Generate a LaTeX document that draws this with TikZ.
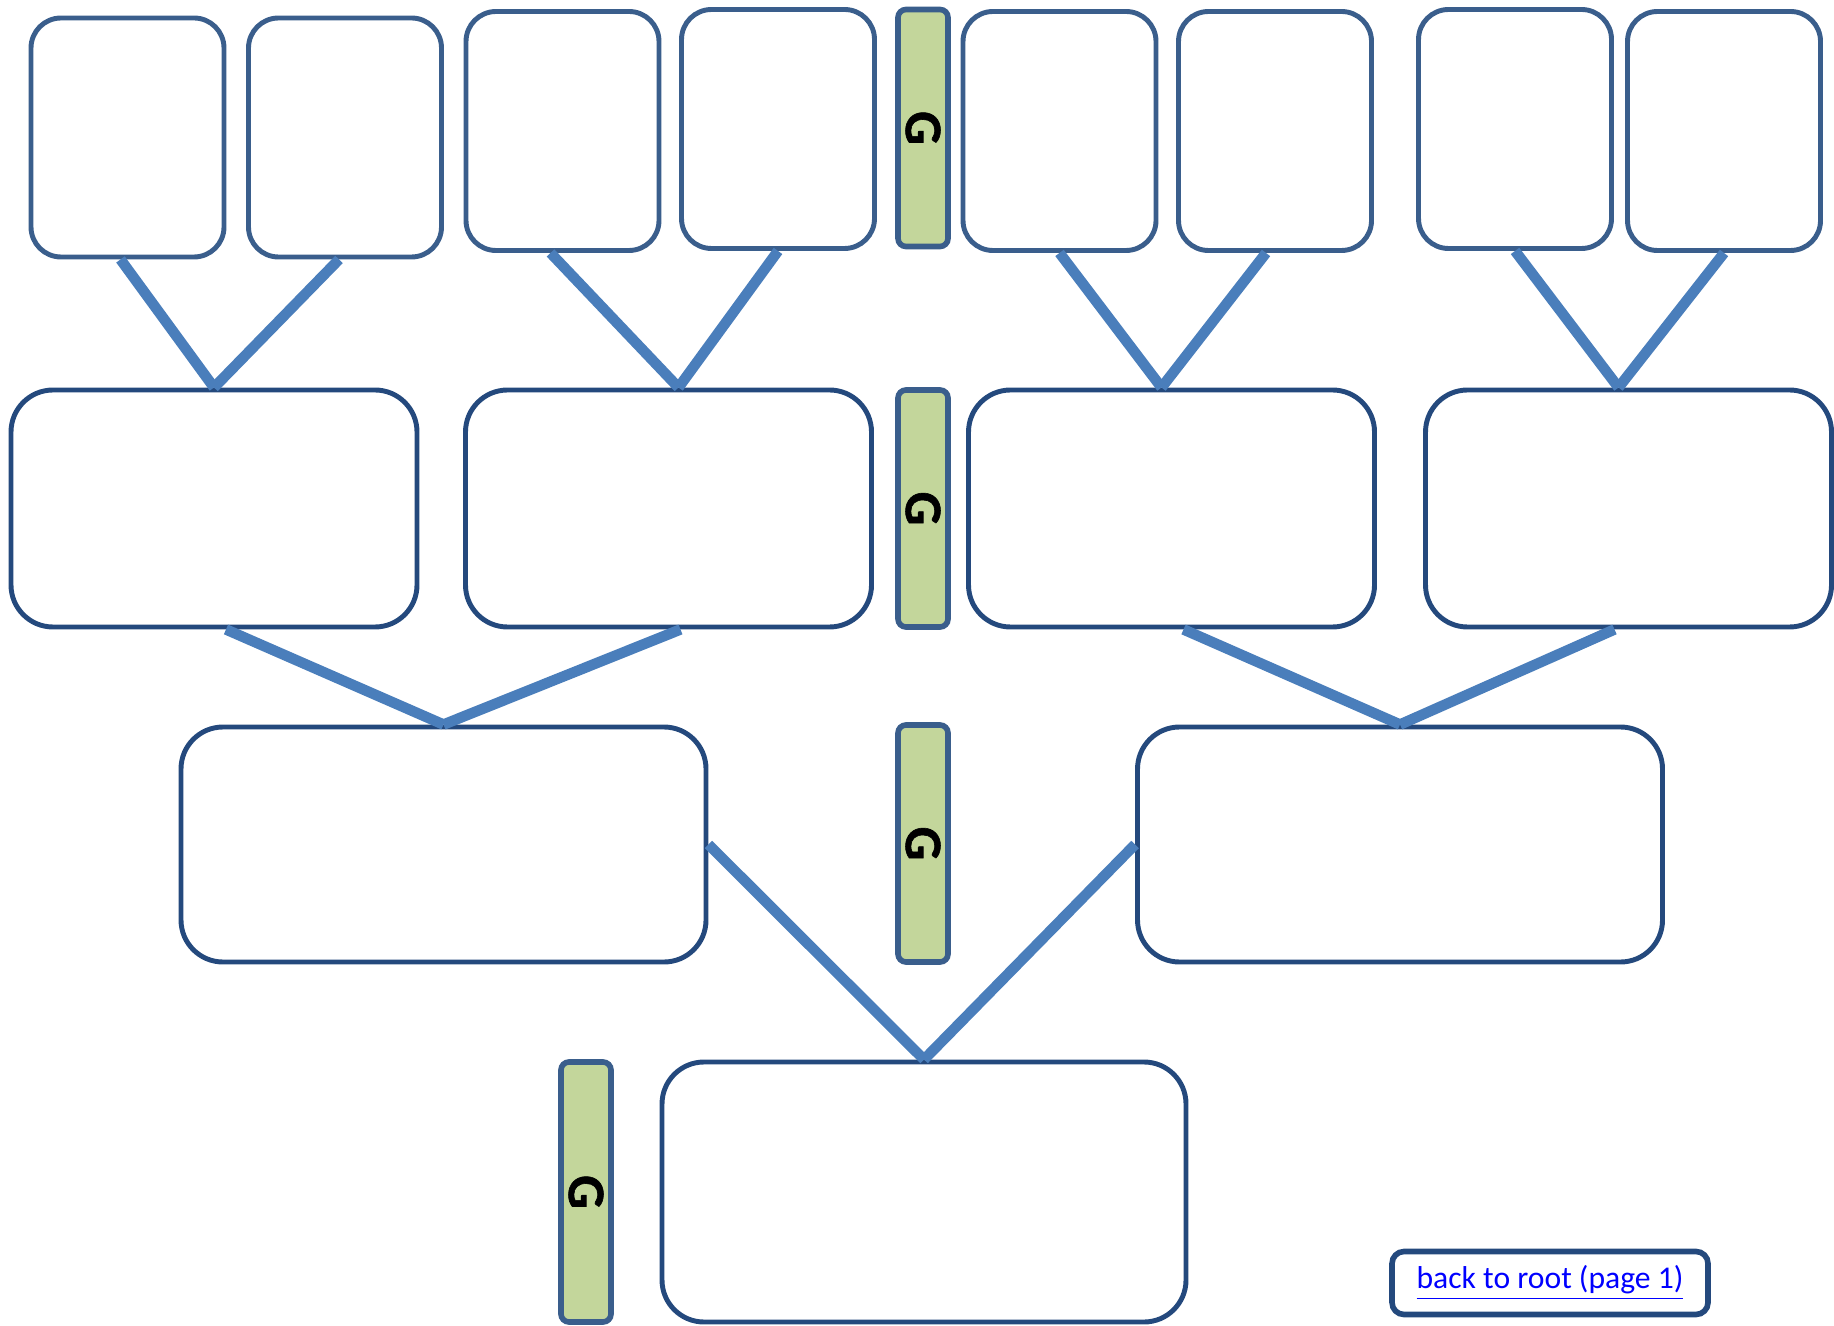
\documentclass[tikz,border=0pt]{standalone}
\usepackage{fontspec}
\setmainfont{Carlito}
\newfontfamily\genfont{Carlito Bold}[FakeBold=1.2]
\usepackage{graphicx}
\usepackage{xcolor}
\usetikzlibrary{positioning}
\definecolor{boxline}{RGB}{36,73,125}
\definecolor{leafline}{RGB}{58,94,140}
\definecolor{stemblue}{RGB}{74,126,187}
\definecolor{genfill}{RGB}{195,214,155}
\definecolor{hyperblue}{RGB}{0,0,255}

\begin{document}
\begin{tikzpicture}[
		leaf/.style={draw=leafline, line width=1.4pt, rounded corners=0.3cm, fill=white, minimum width=1.93cm, minimum height=2.39cm},
		pers/.style={draw=boxline, line width=1.4pt, rounded corners=0.42cm, fill=white, minimum width=4.06cm, minimum height=2.37cm},
		gen/.style={draw=leafline, line width=1.6pt, rounded corners=0.08cm, fill=genfill, minimum width=0.5cm, minimum height=2.37cm, inner sep=0pt, font=\genfont\fontsize{15}{15}\selectfont},
		stem/.style={line width=3pt, stemblue}
	]
	\useasboundingbox (0,0) rectangle (18.34,-13.26);
	% great-grandparents
	\node[leaf] (t1) at (1.275,-1.375) {};
	\node[leaf] (t2) at (3.45,-1.375) {};
	\node[leaf] (t3) at (5.625,-1.31) {};
	\node[leaf] (t4) at (7.78,-1.29) {};
	\node[leaf] (t5) at (10.595,-1.31) {};
	\node[leaf] (t6) at (12.75,-1.31) {};
	\node[leaf] (t7) at (15.15,-1.29) {};
	\node[leaf] (t8) at (17.24,-1.31) {};
	% grandparents
	\node[pers] (m1) at (2.14,-5.085) {};
	\node[pers] (m2) at (6.685,-5.085) {};
	\node[pers] (m3) at (11.715,-5.085) {};
	\node[pers] (m4) at (16.285,-5.085) {};
	% parents
	\node[pers, minimum width=5.25cm, minimum height=2.35cm] (p1) at (4.435,-8.445) {};
	\node[pers, minimum width=5.25cm, minimum height=2.35cm] (p2) at (14.0,-8.445) {};
	% root
	\node[pers, minimum width=5.24cm, minimum height=2.6cm] (root) at (9.24,-11.92) {};
	% generation bars
	\node[gen] (g1) at (9.23,-1.28) {\rotatebox{-90}{G}};
	\node[gen] (g2) at (9.23,-5.085) {\rotatebox{-90}{G}};
	\node[gen] (g3) at (9.23,-8.435) {\rotatebox{-90}{G}};
	\node[gen, minimum height=2.6cm] (g4) at (5.86,-11.92) {\rotatebox{-90}{G}};
	% link
	\node[draw=boxline, line width=1.6pt, rounded corners=0.12cm, minimum width=3.16cm, minimum height=0.63cm, font=\fontsize{9}{11}\selectfont, text=hyperblue] (back) at (15.5,-12.83) {\underline{back to root (page 1)}};
	% connectors
	\draw[stem] ([xshift=-0.07cm]t1.south) -- (m1.north);
	\draw[stem] ([xshift=-0.06cm]t2.south) -- (m1.north);
	\draw[stem] ([xshift=-0.12cm]t3.south) -- ([xshift=0.1cm]m2.north);
	\draw[stem] (t4.south) -- ([xshift=0.1cm]m2.north);
	\draw[stem] (t5.south) -- ([xshift=-0.1cm]m3.north);
	\draw[stem] ([xshift=-0.09cm]t6.south) -- ([xshift=-0.1cm]m3.north);
	\draw[stem] (t7.south) -- ([xshift=-0.1cm]m4.north);
	\draw[stem] (t8.south) -- ([xshift=-0.1cm]m4.north);
	\draw[stem] ([xshift=0.12cm]m1.south) -- (p1.north);
	\draw[stem] ([xshift=0.12cm]m2.south) -- (p1.north);
	\draw[stem] ([xshift=0.12cm]m3.south) -- (p2.north);
	\draw[stem] ([xshift=-0.14cm]m4.south) -- (p2.north);
	\draw[stem] (p1.east) -- (root.north);
	\draw[stem] (p2.west) -- (root.north);
\end{tikzpicture}
\end{document}
